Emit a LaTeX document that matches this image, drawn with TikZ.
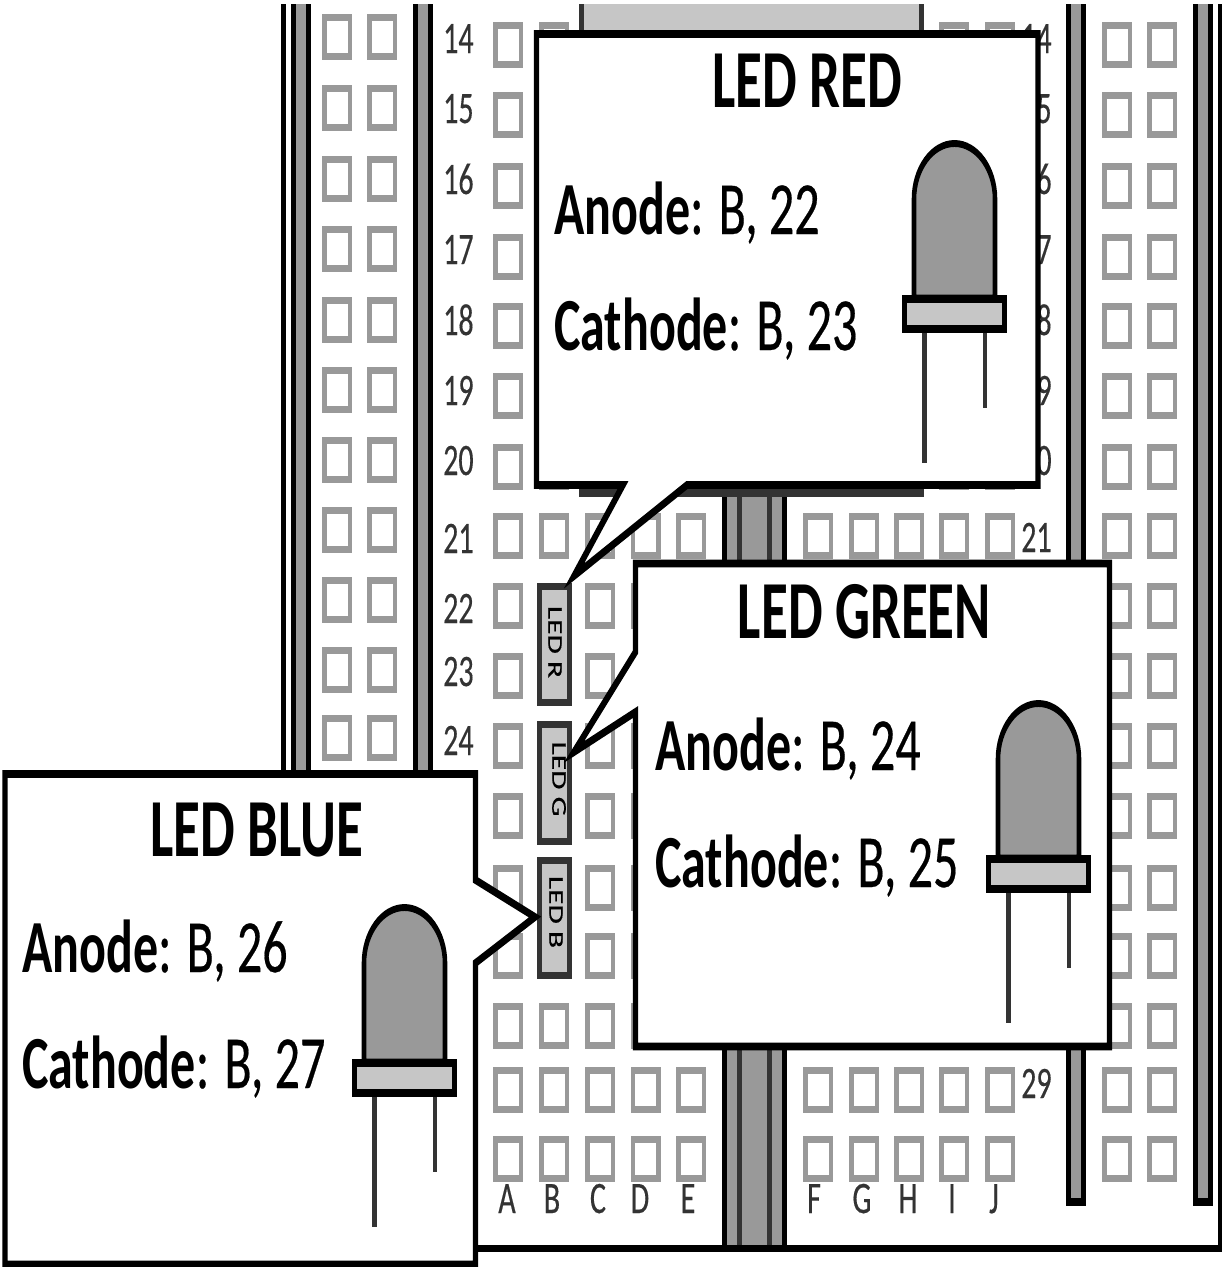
\documentclass[tikz,border=0pt]{standalone}
\usepackage{fontspec}
\setmainfont{Carlito}
\newfontfamily\heavyfont[FakeBold=0.4]{Carlito}
\definecolor{holegray}{HTML}{999999}
\definecolor{railgray}{HTML}{999999}
\definecolor{lightgray2}{HTML}{C6C6C6}
\definecolor{darkline}{HTML}{333333}
\tikzset{
  hole/.style={draw=holegray,line width=4.5pt,fill=white},
  railbar/.style={draw=black,line width=5pt,fill=railgray},
  callout/.style={draw=black,line width=5.2pt,fill=white,line join=miter,miter limit=20},
  ledstrip/.style={draw=darkline,line width=5pt,fill=lightgray2},
  tag/.style={inner sep=0pt,anchor=base west,text=darkline,font=\heavyfont\fontsize{30}{36}\selectfont},
  collabel/.style={inner sep=0pt,anchor=base,text=darkline,font=\heavyfont\fontsize{30}{36}\selectfont},
  title/.style={inner sep=0pt,anchor=base,text=black,font=\fontsize{55}{66}\selectfont\bfseries},
  pinline/.style={inner sep=0pt,anchor=base west,text=black,font=\heavyfont\fontsize{50}{60}\selectfont},
  striplabel/.style={inner sep=0pt,rotate=-90,text=black,font=\heavyfont\fontsize{21}{25}\selectfont},
  domepart/.style={draw=black,line width=4.6pt,fill=railgray},
  collarpart/.style={draw=black,line width=5.4pt,fill=lightgray2},
  legpart/.style={draw=darkline,line width=4.5pt},
}
\newcommand{\ledsymbol}[2]{%
  \begin{scope}[shift={(#1,#2)}]
    \draw[legpart] (924.5,330) -- (924.5,463);
    \draw[legpart] (985,330) -- (985,408);
    \draw[domepart] (914,298) -- (914,199) .. controls (914,169) and (932,143.5) .. (954.5,143.5)
      .. controls (977,143.5) and (995,169) .. (995,199) -- (995,298) -- cycle;
    \draw[collarpart] (904.5,299) rectangle (1004.5,329);
  \end{scope}}
\begin{document}
\begin{tikzpicture}[x=1pt,y=-0.66667pt]
\path[use as bounding box,fill=white] (0pt,0pt) rectangle (1222pt,-1267pt);
\begin{scope}[transform canvas={yscale=1.5}]
  % board outline
  \fill[black] (281,4) rectangle (286,780);
  \fill[black] (1218,4) rectangle (1222,1252);
  \fill[black] (470,1245) rectangle (1222,1252);
  % rails
  \draw[railbar] (293.5,-10) rectangle (308.5,780);
  \draw[railbar] (415.5,-10) rectangle (430.5,780);
  \draw[railbar] (1068.5,-10) rectangle (1083.5,1202);
  \draw[railbar] (1195.5,-10) rectangle (1210.5,1202);
  \fill[white] (270,0) rectangle (1222,4);
  % centre channel
  \fill[black] (722,490) rectangle (787,1250);
  \fill[railgray] (727,490) rectangle (782,1245);
  \fill[darkline] (737,490) rectangle (742,1245);
  \fill[darkline] (767,490) rectangle (772,1245);
  % side-rail holes
  \foreach \yy in {37,108,179,249,320,390,460,530,600,670,738}{
    \draw[hole] (324.25,\yy-19.5) rectangle (349.75,\yy+19.5);
    \draw[hole] (369.25,\yy-19.5) rectangle (394.75,\yy+19.5);
  }
  \foreach \yy in {45,115,186,257,326,396,467,536,606,676,746,816,888,956,1026,1090,1159}{
    \draw[hole] (1104.25,\yy-19.5) rectangle (1129.75,\yy+19.5);
    \draw[hole] (1149.25,\yy-19.5) rectangle (1174.75,\yy+19.5);
  }
  % main holes
  \foreach \yy in {45,115,186,257,326,396,467,536,606,676,746,816,888,956,1026,1090,1159}{
    \foreach \xx in {508,554,600,645.5,691,818,864,909,954,1000}{
      \draw[hole] (\xx-12.75,\yy-19.5) rectangle (\xx+12.75,\yy+19.5);
    }
  }
  % chip
  \draw[draw=darkline,line width=4.5pt,fill=lightgray2] (581.5,-10) rectangle (921.5,490);
  \fill[white] (570,0) rectangle (930,4);
  \fill[darkline] (579,487) rectangle (924,497);
  % row labels
  \foreach \n/\b in {14/53,15/123,16/194,17/264,18/335,19/405,20/475,21/553,22/623,23/686,24/755}{
    \node[tag] (left\n) at (443,\b) {\n};
  }
  \foreach \n/\b in {14/53,15/123,16/194,17/264,18/335,19/405,20/475,21/552,29/1098}{
    \node[tag] (right\n) at (1021,\b) {\n};
  }
  % column labels
  \foreach \t/\xx in {A/507,B/552,C/598,D/640,E/688,F/814,G/862,H/908,I/952,J/994}{
    \node[collabel] (col\t) at (\xx,1213) {\t};
  }
  % LED strips
  \draw[ledstrip] (539.5,586.5) rectangle (569.5,702.5);
  \draw[ledstrip] (539.5,724.5) rectangle (569.5,841.5);
  \draw[ledstrip] (539.5,860.5) rectangle (569.5,975.5);
  \node[striplabel] (stripR) at (555,642) {LED R};
  \node[striplabel] (stripG) at (559,779) {LED G};
  \node[striplabel] (stripB) at (556,912) {LED B};
  % callouts
  \draw[callout] (536.5,34) -- (1038,34) -- (1038,485) -- (687,485) -- (574,576) -- (623,485) -- (536.5,485) -- cycle;
  \draw[callout] (635.5,563.5) -- (1109.5,563.5) -- (1109.5,1046.5) -- (635.5,1046.5) -- (635.5,712) -- (574,752) -- (635.5,652) -- cycle;
  \draw[callout] (5,774) -- (475.5,774) -- (475.5,880) -- (535,917) -- (475.5,963) -- (475.5,1264.5) -- (5,1264.5) -- cycle;
  % callout text
  \node[title] (titleR) at (807.5,107) {LED RED};
  \node[pinline] (anodeR) at (554,234) {\normalfont\fontsize{50}{60}\selectfont\bfseries Anode\heavyfont\mdseries: B, 22};
  \node[pinline] (cathR) at (554,350) {\normalfont\fontsize{50}{60}\selectfont\bfseries Cathode\heavyfont\mdseries: B, 23};
  \node[title] (titleG) at (864.5,638) {LED GREEN};
  \node[pinline] (anodeG) at (655,770) {\normalfont\fontsize{50}{60}\selectfont\bfseries Anode\heavyfont\mdseries: B, 24};
  \node[pinline] (cathG) at (655,887) {\normalfont\fontsize{50}{60}\selectfont\bfseries Cathode\heavyfont\mdseries: B, 25};
  \node[title] (titleB) at (256.5,856) {LED BLUE};
  \node[pinline] (anodeB) at (22,972) {\normalfont\fontsize{50}{60}\selectfont\bfseries Anode\heavyfont\mdseries: B, 26};
  \node[pinline] (cathB) at (22,1088) {\normalfont\fontsize{50}{60}\selectfont\bfseries Cathode\heavyfont\mdseries: B, 27};
  % LEDs
  \ledsymbol{0}{0}
  \ledsymbol{84}{560}
  \ledsymbol{-550}{764}
\end{scope}
\end{tikzpicture}
\end{document}
